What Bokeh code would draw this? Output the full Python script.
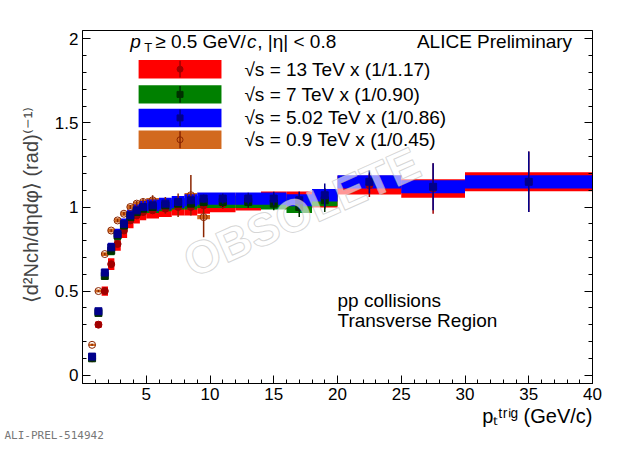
import numpy as np
from bokeh.plotting import figure
from bokeh.models import Range1d, Label, LinearAxis, FixedTicker, ColumnDataSource, Title
from bokeh.embed import file_html
from bokeh.resources import INLINE
from bokeh.core.properties import value

edges = [0.5,1,1.5,2,2.5,3,3.5,4,4.5,5,6,7,8,9,10,12,14,16,18,20,25,30,40]
y13 = [0.10,0.30,0.50,0.66,0.78,0.86,0.92,0.95,0.97,0.98,0.99,1.00,1.00,1.01,1.02,1.03,1.04,1.04,1.05,1.13,1.11,1.15]
s13 = [0.005,0.005,0.005,0.006,0.006,0.007,0.008,0.01,0.01,0.01,0.012,0.015,0.02,0.025,0.03,0.035,0.04,0.05,0.06,0.07,0.15,0.18]
y05 = [0.11,0.38,0.61,0.76,0.84,0.90,0.95,0.98,1.00,1.01,1.02,1.03,1.04,1.05,1.05,1.05,1.05,1.04,1.07,1.15,1.12,1.15]
s05 = [0.005,0.005,0.005,0.006,0.006,0.007,0.008,0.01,0.01,0.01,0.012,0.015,0.02,0.025,0.03,0.035,0.04,0.05,0.07,0.07,0.14,0.18]
y07 = [0.10,0.37,0.59,0.74,0.83,0.89,0.94,0.97,0.99,1.00,1.01,1.02,1.02,1.03,1.03,1.03,1.02,1.00,1.04]
s07 = [0.005,0.005,0.005,0.006,0.006,0.007,0.008,0.01,0.01,0.01,0.012,0.015,0.02,0.025,0.03,0.035,0.04,0.06,0.07]
y09 = [0.18,0.50,0.72,0.86,0.92,0.96,1.00,1.02,1.03,1.04,1.01,1.01,1.07,0.94]
s09 = [0.006,0.006,0.007,0.008,0.01,0.01,0.012,0.015,0.02,0.03,0.05,0.07,0.12,0.12]
syst13 = 0.045
syst05 = 0.03
syst07 = 0.03
syst09 = 0.008

series = [
    ("√s = 13 TeV x (1/1.17)", y13, s13, syst13, "#ff0000", "#a00000", "circle", True),
    ("√s = 7 TeV x (1/0.90)", y07, s07, syst07, "#008000", "#003000", "square", True),
    ("√s = 5.02 TeV x (1/0.86)", y05, s05, syst05, "#0000ff", "#00008b", "square", True),
    ("√s = 0.9 TeV x (1/0.45)", y09, s09, syst09, "#d2691e", "#8b2500", "circle", False),
]
draw_order = [3, 0, 1, 2]

p = figure(width=612, height=441, output_backend="svg", toolbar_location=None,
           x_range=Range1d(0, 40), y_range=Range1d(-0.05, 2.05),
           min_border_left=82, min_border_right=20, min_border_top=30, min_border_bottom=0)
p.grid.visible = False
p.outline_line_color = "black"

for ax in (p.xaxis[0], p.yaxis[0]):
    ax.major_tick_in = 8; ax.major_tick_out = 0
    ax.minor_tick_in = 4; ax.minor_tick_out = 0
    ax.major_label_text_font = "Liberation Sans"
    ax.major_label_text_font_size = "17px"
    ax.major_label_text_color = "black"
    ax.axis_label_text_font = "Liberation Sans"
    ax.axis_label_text_font_style = "normal"
    ax.axis_label_text_font_size = "20px"
    ax.major_label_standoff = 4
p.xaxis.ticker = FixedTicker(ticks=[5,10,15,20,25,30,35,40], minor_ticks=list(np.arange(1,40.5,1)))
p.yaxis.ticker = FixedTicker(ticks=[0,0.5,1,1.5,2], minor_ticks=list(np.arange(0,2.05,0.1)))
p.yaxis.major_label_overrides = {0: "0", 0.5: "0.5", 1: "1", 1.5: "1.5", 2: "2"}
p.yaxis.axis_label = "⟨d²Nch/dηdφ⟩ (rad)⁽⁻¹⁾"
p.yaxis.axis_label_standoff = 10
ra = LinearAxis(ticker=FixedTicker(ticks=[0,0.5,1,1.5,2], minor_ticks=list(np.arange(0,2.05,0.1))),
                major_label_overrides={0: "", 0.5: "", 1: "", 1.5: "", 2: ""},
                major_label_standoff=0, major_tick_in=8, major_tick_out=0,
                minor_tick_in=4, minor_tick_out=0)
p.add_layout(ra, "right")
p.add_layout(Title(text="pₜᵗʳⁱᵍ (GeV/c)", align="right", text_font="Liberation Sans",
                   text_font_size="20px", text_color="black", text_font_style="normal",
                   standoff=0), "below")
p.add_layout(Title(text="ALI-PREL-514942", align="left", text_font="DejaVu Sans Mono",
                   text_font_size="11px", text_color="#777777", text_font_style="normal",
                   offset=-78, standoff=0), "below")

for i in draw_order:
    name, ys, ss, sy, col, mcol, mk, filled = series[i]
    n = len(ys)
    lo = np.array(edges[:n]); hi = np.array(edges[1:n+1]); yy = np.array(ys)
    src = ColumnDataSource(dict(l=lo, r=hi, b=yy-sy*yy-0.005, t=yy+sy*yy+0.005))
    p.quad(left="l", right="r", bottom="b", top="t", source=src, fill_color=col, line_color=None)

for i in draw_order:
    name, ys, ss, sy, col, mcol, mk, filled = series[i]
    n = len(ys)
    lo = np.array(edges[:n]); hi = np.array(edges[1:n+1]); yy = np.array(ys)
    src = ColumnDataSource(dict(x=(lo+hi)/2, y=yy, el=yy-np.array(ss), eh=yy+np.array(ss)))
    p.segment(x0="x", x1="x", y0="el", y1="eh", source=src, line_color=mcol, line_width=1.5)
    p.scatter(x="x", y="y", source=src, marker=mk, size=7,
              fill_color=mcol if filled else None, line_color=mcol, line_width=1)

ly = [1.82, 1.67, 1.53, 1.40]
for (name, ys, ss, sy, col, mcol, mk, filled), yv in zip(series, ly):
    p.quad(left=[4.4], right=[10.9], bottom=[yv-0.055], top=[yv+0.055], fill_color=col, line_color=None)
    p.segment(x0=[7.65], x1=[7.65], y0=[yv-0.05], y1=[yv+0.05], line_color=mcol, line_width=1.5)
    p.scatter(x=[7.65], y=[yv], marker=mk, size=6, fill_color=mcol if filled else None, line_color=mcol)
    p.text(x=[12.7], y=[yv], text=[name], text_font=value("Liberation Sans"), text_font_size="19px",
           text_baseline="middle", text_color="black")

p.text(x=[17.2], y=[0.97], text=["OBSOLETE"], angle=0.42, text_align="center", text_baseline="middle",
       text_font=value("Liberation Sans"), text_font_style="bold", text_font_size="46px",
       text_color="white", text_alpha=0.6, text_outline_color="#bbbbbb")

def lab(x, y, t, size="19px", style="normal", **kw):
    p.add_layout(Label(x=x, y=y, text=t, text_font="Liberation Sans",
                       text_font_size=size, text_font_style=style, text_color="black", **kw))

lab(3.75, 1.92, "p", style="italic")
lab(4.85, 1.905, "T", size="13px")
lab(5.7, 1.92, " ≥ 0.5 GeV/")
lab(12.9, 1.92, "c", style="italic")
lab(13.7, 1.92, ", |η| < 0.8")
lab(38.4, 1.92, "ALICE Preliminary", text_align="right")
lab(20.0, 0.38, "pp collisions")
lab(20.0, 0.26, "Transverse Region")

open("out.html", "w").write(file_html(p, INLINE))
